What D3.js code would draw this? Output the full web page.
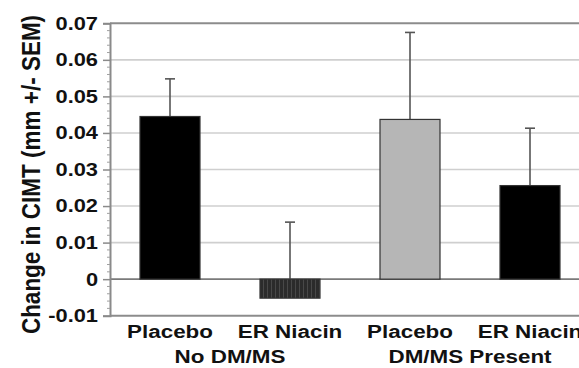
<!DOCTYPE html>
<html>
<head>
<meta charset="utf-8">
<script src="https://cdn.jsdelivr.net/npm/d3@7"></script>
<style>
  html, body { margin: 0; padding: 0; background: #fff; }
  svg { display: block; }
  text { font-family: "Liberation Sans", Arial, sans-serif; font-weight: bold; fill: #111; }
</style>
</head>
<body>
<svg id="chart" width="579" height="368"></svg>
<script>
// Treatment arms, in drawing order
const categories = ["Placebo", "ER Niacin", "Placebo ", "ER Niacin "];
const groups = ["No DM/MS", "DM/MS Present"];
const groupOf = [0, 0, 1, 1];
// Mean change in CIMT (mm) and its standard error
const means = [0.0445, -0.0052, 0.0437, 0.0256];
const sems = [0.0103, 0.0208, 0.0238, 0.0157];
const yTicks = [-0.01, 0, 0.01, 0.02, 0.03, 0.04, 0.05, 0.06, 0.07];
const yTickLabels = ["-0.01", "0", "0.01", "0.02", "0.03", "0.04", "0.05", "0.06", "0.07"];
const fills = ["#000000", "url(#stripes)", "#b6b6b6", "#000000"];

const svg = d3.select("#chart");
const plotLeft = 110, plotTop = 23.3, plotBottom = 315.7, plotRight = 590;
const stretch = 1.18; // wide lettering used throughout

const defs = svg.append("defs");
const pat = defs.append("pattern").attr("id", "stripes")
  .attr("patternUnits", "userSpaceOnUse").attr("width", 4).attr("height", 4);
pat.append("rect").attr("width", 4).attr("height", 4).attr("fill", "#2b2b2b");
pat.append("rect").attr("x", 3).attr("width", 1).attr("height", 4).attr("fill", "#484848");

const x = d3.scaleBand().domain(categories).range([plotLeft, plotRight])
  .paddingInner(0.5).paddingOuter(0.25);
const y = d3.scaleLinear().domain([-0.01, 0.07]).range([plotBottom, plotTop]);

// Horizontal gridlines
svg.append("g").selectAll("line").data(yTicks).join("line")
  .attr("x1", plotLeft).attr("x2", 579)
  .attr("y1", d => y(d)).attr("y2", d => y(d))
  .attr("stroke", d => d === 0 ? "#7a7a7a" : (d === 0.07 || d === -0.01 ? "#8c8c8c" : "#cfcfcf"))
  .attr("stroke-width", d => (d === 0.07 || d === -0.01) ? 2 : 1.6);

// Y axis
const yAxis = d3.axisLeft(y).tickValues(yTicks)
  .tickFormat((d, i) => yTickLabels[i]).tickSize(7).tickPadding(5);
const ga = svg.append("g").attr("transform", `translate(${plotLeft},0)`).call(yAxis);
ga.select(".domain").attr("stroke", "#8a8a8a").attr("stroke-width", 2);
ga.selectAll(".tick line").attr("stroke", "#8a8a8a").attr("stroke-width", 1.5);
ga.selectAll(".tick text")
  .attr("font-size", 18.5)
  .attr("font-family", "Liberation Sans, Arial, sans-serif")
  .attr("font-weight", "bold").attr("fill", "#111")
  .attr("x", -12 / stretch)
  .attr("transform", `scale(${stretch},1)`);

// Minor ticks along the axis
const minor = d3.range(-0.01, 0.0701, 0.002).filter(v => Math.abs(Math.round(v * 100) - v * 100) > 1e-6);
svg.append("g").selectAll("line").data(minor).join("line")
  .attr("x1", plotLeft - 3).attr("x2", plotLeft)
  .attr("y1", d => y(d)).attr("y2", d => y(d))
  .attr("stroke", "#a0a0a0").attr("stroke-width", 1);

// Error bars (upper half only)
const eb = svg.append("g").attr("stroke", "#555").attr("stroke-width", 1.6);
categories.forEach((c, i) => {
  const cx = x(c) + x.bandwidth() / 2;
  const yEnd = y(means[i] + sems[i]);
  eb.append("line").attr("x1", cx).attr("x2", cx).attr("y1", y(Math.max(means[i], 0))).attr("y2", yEnd);
  eb.append("line").attr("x1", cx - 5).attr("x2", cx + 5).attr("y1", yEnd).attr("y2", yEnd);
});

// Bars
svg.append("g").selectAll("rect").data(means).join("rect")
  .attr("x", (d, i) => x(categories[i]))
  .attr("width", x.bandwidth())
  .attr("y", d => y(Math.max(d, 0)))
  .attr("height", d => Math.abs(y(d) - y(0)))
  .attr("fill", (d, i) => fills[i])
  .attr("stroke", "#333").attr("stroke-width", 1.2);

// Category labels
svg.append("g").selectAll("text").data(categories).join("text")
  .attr("transform", c => `translate(${x(c) + x.bandwidth() / 2},338) scale(${stretch},1)`)
  .attr("text-anchor", "middle")
  .attr("font-size", 19)
  .text(c => c.trim());

// Group labels under each pair
svg.append("g").selectAll("text").data(groups).join("text")
  .attr("transform", (g, gi) => {
    const idx = categories.filter((c, i) => groupOf[i] === gi);
    const cx = (x(idx[0]) + x(idx[idx.length - 1]) + x.bandwidth()) / 2;
    return `translate(${cx},363) scale(${stretch},1)`;
  })
  .attr("text-anchor", "middle")
  .attr("font-size", 19)
  .text(g => g);

// Y axis title
svg.append("text")
  .attr("transform", `translate(40,${(plotTop + plotBottom) / 2 + 5}) rotate(-90) scale(1,1.12)`)
  .attr("text-anchor", "middle")
  .attr("font-size", 22.5)
  .text("Change in CIMT (mm +/- SEM)");
</script>
</body>
</html>
